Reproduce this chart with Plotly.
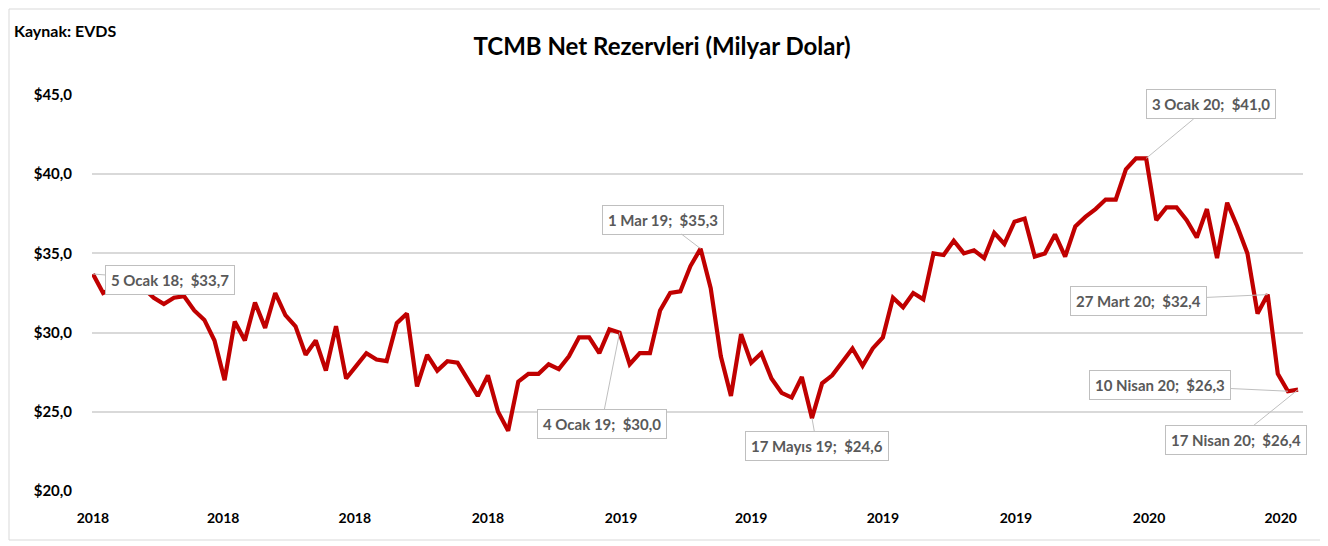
import pandas as pd
import plotly.graph_objects as go

# Weekly dates (Fridays) 5 Jan 2018 .. 17 Apr 2020
dates = pd.date_range("2018-01-05", periods=120, freq="7D")

reserves = [
    33.7, 32.5, 32.8, 33.0, 32.9, 32.8, 32.2, 31.8, 32.2, 32.3,
    31.4, 30.8, 29.5, 27.0, 30.7, 29.5, 31.9, 30.3, 32.5, 31.1,
    30.4, 28.6, 29.5, 27.6, 30.4, 27.1, 27.9, 28.7, 28.3, 28.2,
    30.6, 31.2, 26.6, 28.6, 27.6, 28.2, 28.1, 27.0, 26.0, 27.3,
    25.0, 23.8, 26.9, 27.4, 27.4, 28.0, 27.7, 28.5, 29.7, 29.7,
    28.7, 30.2, 30.0, 28.0, 28.7, 28.7, 31.4, 32.5, 32.6, 34.2,
    35.3, 32.8, 28.5, 26.0, 29.9, 28.1, 28.7, 27.1, 26.2, 25.9,
    27.2, 24.6, 26.8, 27.3, 28.1, 29.0, 27.9, 29.0, 29.7, 32.2,
    31.6, 32.5, 32.1, 35.0, 34.9, 35.8, 35.0, 35.2, 34.7, 36.3,
    35.6, 37.0, 37.2, 34.8, 35.0, 36.2, 34.8, 36.7, 37.3, 37.8,
    38.4, 38.4, 40.3, 41.0, 41.0, 37.1, 37.9, 37.9, 37.1, 36.0,
    37.8, 34.7, 38.2, 36.7, 35.0, 31.2, 32.4, 27.4, 26.3, 26.4,
]

y_ticks = [20, 25, 30, 35, 40, 45]
y_tick_text = ["$20,0", "$25,0", "$30,0", "$35,0", "$40,0", "$45,0"]

x_ticks = ["2018-01-05", "2018-04-05", "2018-07-05", "2018-10-05", "2019-01-05",
           "2019-04-05", "2019-07-05", "2019-10-05", "2020-01-05", "2020-04-05"]
x_tick_text = ["2018", "2018", "2018", "2018", "2019", "2019", "2019", "2019", "2020", "2020"]

# labelled points: index, text, pixel offsets of label box
label_idx = [0, 52, 60, 71, 104, 116, 118, 119]
label_text = ["5 Ocak 18;\u00a0 $33,7", "4 Ocak 19;\u00a0 $30,0", "1 Mar 19;\u00a0 $35,3",
              "17 Mayıs 19;\u00a0 $24,6", "3 Ocak 20;\u00a0 $41,0", "27 Mart 20;\u00a0 $32,4",
              "10 Nisan 20;\u00a0 $26,3", "17 Nisan 20;\u00a0 $26,4"]
label_ax = [77, -18, -38, 5, 65, -129, -128, -62]
label_ay = [6, 91, -29, 28, -54, 6, -6, 50]

FONT = "Lato, 'Open Sans', sans-serif"

# page body offset of 8px: absolute pixel layout targets
W, H = 1320, 538
OFF = 8
PL, PR, PT, PB = 92, 1303, 95, 491  # plot area in absolute page pixels
PW, PH = PR - PL, PB - PT

fig = go.Figure()
fig.add_trace(go.Scatter(
    x=dates, y=reserves, mode="lines",
    line=dict(color="#C00000", width=4.2),
    hoverinfo="skip", showlegend=False,
))

for i, t, ax, ay in zip(label_idx, label_text, label_ax, label_ay):
    fig.add_annotation(
        x=dates[i], y=reserves[i], xref="x", yref="y",
        text=t, showarrow=True, arrowhead=0, arrowwidth=1, arrowcolor="#BFBFBF",
        ax=ax, ay=ay, standoff=0, startstandoff=0,
        bgcolor="white", bordercolor="#BFBFBF", borderwidth=1, borderpad=5,
        font=dict(family=FONT, size=15, color="#595959", weight="bold"),
    )

fig.add_annotation(
    text="Kaynak: EVDS", xref="paper", yref="paper",
    x=(12 - PL) / PW, y=1 + (PT - 30) / PH, xanchor="left", yanchor="middle",
    showarrow=False, font=dict(family=FONT, size=16, color="black", weight="bold"),
)

# outer chart border
fig.add_shape(
    type="rect", xref="paper", yref="paper",
    x0=(9 - PL) / PW, x1=(1321 - PL) / PW,
    y0=1 - (540 - PT) / PH, y1=1 + (PT - 9) / PH,
    line=dict(color="#D9D9D9", width=1), layer="below",
)

fig.update_layout(
    width=W, height=H,
    margin=dict(l=PL - OFF, r=W - (PR - OFF), t=PT - OFF, b=H - (PB - OFF)),
    paper_bgcolor="white", plot_bgcolor="white",
    title=dict(
        text="TCMB Net Rezervleri (Milyar Dolar)",
        x=(662 - OFF) / W, xanchor="center", y=1 - (47 - OFF) / H, yanchor="middle",
        font=dict(family=FONT, size=24, color="black", weight="bold"),
    ),
    xaxis=dict(
        type="date",
        range=["2018-01-04 08:00", "2020-04-20 10:00"],
        tickvals=x_ticks, ticktext=x_tick_text,
        showgrid=False, zeroline=False, showline=False,
        ticks="outside", ticklen=14, tickcolor="rgba(0,0,0,0)",
        tickfont=dict(family=FONT, size=14, color="black", weight="bold"),
    ),
    yaxis=dict(
        range=[20, 45],
        tickvals=y_ticks, ticktext=y_tick_text,
        showgrid=True, gridcolor="#D9D9D9", gridwidth=1.5,
        zeroline=False, showline=False,
        ticks="outside", ticklen=16, tickcolor="rgba(0,0,0,0)",
        tickfont=dict(family=FONT, size=15, color="black", weight="bold"),
    ),
)

fig.write_html("out.html")
